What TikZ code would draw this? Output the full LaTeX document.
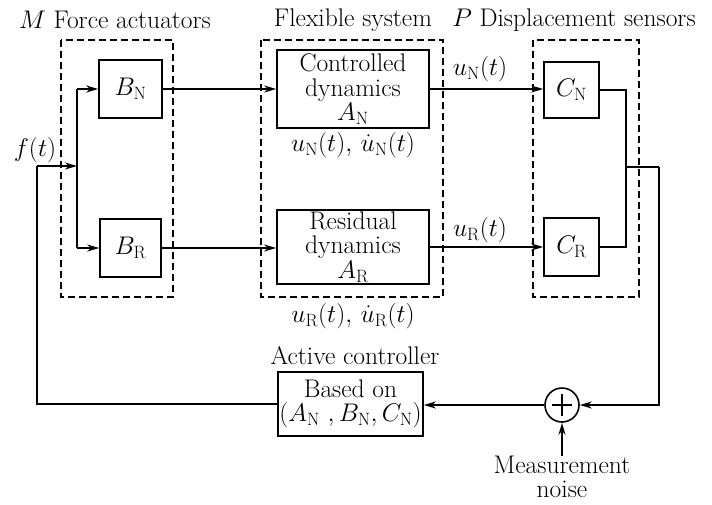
\RequirePackage{fix-cm}
\documentclass[tikz,border=0pt]{standalone}
\usetikzlibrary{arrows.meta,calc}
\tikzset{
  x=1pt, y=-1pt,
  every node/.style={font=\fontsize{25.5}{24.5}\selectfont, inner sep=0pt},
  blk/.style={draw, line width=1.7pt, minimum width=#1},
  grp/.style={draw, line width=1.4pt, dash pattern=on 7pt off 4pt},
  wire/.style={line width=1.5pt},
  arr/.style={wire, -{Stealth[length=12pt,width=7pt]}},
  lbl/.style={align=center}
}
\begin{document}
\begin{tikzpicture}
\useasboundingbox (0,0) rectangle (712,504);
% dashed groups
\draw[grp] (61,40) rectangle (173,297);
\draw[grp] (261,40) rectangle (443,297);
\draw[grp] (533,40) rectangle (639,297);
% blocks
\node[blk=63pt, minimum height=58pt] (BN) at (130.5,89) {$B_{\mathrm N}$};
\node[blk=61pt, minimum height=58pt] (BR) at (130.5,248) {$B_{\mathrm R}$};
\node[blk=152pt, minimum height=78pt, lbl] (CD) at (353,89) {Controlled\\dynamics\\$A_{\mathrm N}$};
\node[blk=152pt, minimum height=74pt, lbl] (RD) at (353,247) {Residual\\dynamics\\$A_{\mathrm R}$};
\node[blk=55pt, minimum height=56pt] (CN) at (571.5,90) {$C_{\mathrm N}$};
\node[blk=55pt, minimum height=58pt] (CR) at (571.5,247) {$C_{\mathrm R}$};
\node[blk=145pt, minimum height=64pt, lbl] (CT) at (350.5,404) {Based on\\$(A_{\mathrm N}\ ,B_{\mathrm N}, C_{\mathrm N})$};
\node[draw, circle, line width=1.6pt, minimum size=34pt] (S) at (562,405) {};
\draw[line width=1.5pt] ($(S.center)+(-10,0)$) -- ($(S.center)+(10,0)$)
  ($(S.center)+(0,-11)$) -- ($(S.center)+(0,11)$);
% labels
\node (tM) at (115,20) {$M$ Force actuators};
\node (tF) at (353,20) {Flexible system};
\node (tP) at (574,20) {$P$ Displacement sensors};
\node (tf) at (35,150) {$f(t)$};
\node (tuN) at (480,69) {$u_{\mathrm N}(t)$};
\node (tuR) at (480,230) {$u_{\mathrm R}(t)$};
\node (tdN) at (353,145) {$u_{\mathrm N}(t),\,\dot u_{\mathrm N}(t)$};
\node (tdR) at (353,316) {$u_{\mathrm R}(t),\,\dot u_{\mathrm R}(t)$};
\node (tA) at (355,356) {Active controller};
\node[lbl] (noise) at (562,477) {Measurement\\noise};
% coordinates
\coordinate (fl) at (37,166);
\coordinate (bus) at (77,166);
\coordinate (busT) at (77,89);
\coordinate (busB) at (77,248);
\coordinate (jx) at (626,167);
\coordinate (ro) at (659,167);
% wires
\draw[wire] (CT.west) -- (CT.west -| fl) -- (fl);
\draw[arr] (fl) -- (bus);
\draw[wire] (busT) -- (busB);
\draw[arr] (busT) -- (BN.west);
\draw[arr] (busB) -- (BR.west);
\draw[arr] (BN.east) -- (BN.east -| CD.west);
\draw[arr] (BR.east) -- (BR.east -| RD.west);
\draw[arr] (CD.east) -- (CD.east -| CN.west);
\draw[arr] (RD.east) -- (RD.east -| CR.west);
\draw[wire] (CN.east) -| (jx) |- (CR.east);
\draw[wire] (jx) -- (ro);
\draw[arr] (ro) |- (S.east);
\draw[arr] (S.west) -- (S.west -| CT.east);
\draw[arr] (noise.north) -- (S.south);
\end{tikzpicture}
\end{document}
